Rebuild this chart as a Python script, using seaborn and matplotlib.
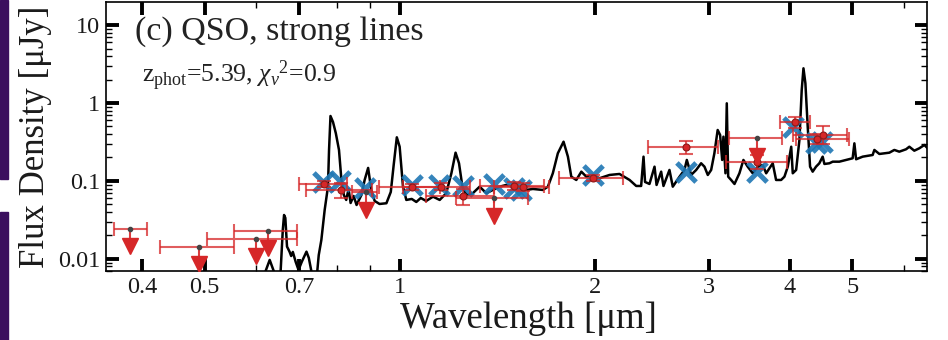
import numpy as np
import pandas as pd
import matplotlib
matplotlib.use("Agg")
import matplotlib.pyplot as plt
import seaborn as sns
from matplotlib.patches import Rectangle
from matplotlib.ticker import FixedLocator, FixedFormatter, LogLocator, NullFormatter

# ---------------- data ----------------
spec_wave = [0.612, 0.621, 0.630, 0.639, 0.648, 0.655, 0.660, 0.663, 0.666, 0.670,
             0.676, 0.680, 0.684, 0.691, 0.698, 0.706, 0.718, 0.724, 0.731, 0.739,
             0.746, 0.750, 0.757, 0.766, 0.775, 0.778, 0.782, 0.789, 0.797, 0.806,
             0.813, 0.820, 0.827, 0.834, 0.840, 0.849, 0.858, 0.873, 0.883, 0.894,
             0.904, 0.915, 0.931, 0.954, 0.969, 0.979, 0.990, 1.000, 1.012, 1.024,
             1.044, 1.061, 1.078, 1.099, 1.126, 1.153, 1.180, 1.202, 1.220, 1.235,
             1.250, 1.268, 1.297, 1.329, 1.361, 1.393, 1.427, 1.461, 1.496, 1.532,
             1.569, 1.606, 1.664, 1.694, 1.724, 1.755, 1.791, 1.819, 1.841, 1.874,
             1.908, 1.942, 1.987, 2.035, 2.109, 2.185, 2.265, 2.319, 2.360, 2.371,
             2.380, 2.393, 2.431, 2.475, 2.493, 2.534, 2.555, 2.610, 2.641, 2.705,
             2.753, 2.776, 2.819, 2.870, 2.921, 2.956, 2.991, 3.027, 3.062, 3.098,
             3.125, 3.148, 3.162, 3.185, 3.200, 3.216, 3.250, 3.289, 3.347, 3.395,
             3.447, 3.509, 3.572, 3.636, 3.681, 3.768, 3.813, 3.882, 3.928, 3.975,
             4.024, 4.046, 4.095, 4.143, 4.177, 4.203, 4.232, 4.267, 4.303, 4.343,
             4.395, 4.447, 4.500, 4.528, 4.609, 4.664, 4.775, 4.891, 5.006, 5.037,
             5.068, 5.188, 5.375, 5.408, 5.505, 5.704, 5.806, 5.909, 6.053, 6.124,
             6.233, 6.346, 6.460, 6.576]
spec_flux = [0.00464, 0.00702, 0.00971, 0.00702, 0.00464, 0.00702, 0.0235, 0.0366, 0.0336, 0.0144,
             0.0124, 0.0109, 0.0123, 0.00916, 0.00723, 0.00916, 0.0124, 0.0103, 0.00681, 0.00538,
             0.00687, 0.0112, 0.0175, 0.0425, 0.0845, 0.250, 0.681, 0.571, 0.409, 0.250,
             0.103, 0.0662, 0.0571, 0.0790, 0.0522, 0.0642, 0.0492, 0.0662, 0.103, 0.147,
             0.0767, 0.0554, 0.0507, 0.0518, 0.0723, 0.160, 0.363, 0.275, 0.0845, 0.0571,
             0.0588, 0.0538, 0.0605, 0.0554, 0.0629, 0.0571, 0.0696, 0.1255, 0.2306, 0.1686,
             0.0845, 0.0662, 0.0696, 0.0845, 0.0696, 0.0767, 0.0845, 0.0889, 0.0845, 0.0813,
             0.0767, 0.0790, 0.0767, 0.0845, 0.1255, 0.2265, 0.319, 0.205, 0.1135, 0.103,
             0.1316, 0.1135, 0.1194, 0.1083, 0.1194, 0.123, 0.103, 0.0863, 0.0863, 0.1384,
             0.205, 0.0971, 0.0915, 0.1525, 0.0889, 0.1316, 0.0863, 0.1384, 0.0845, 0.1135,
             0.1384, 0.186, 0.1194, 0.1384, 0.1686, 0.1525, 0.1194, 0.1384, 0.2265, 0.451,
             0.389, 0.186, 0.370, 0.1255, 0.991, 0.1135, 0.103, 0.0915, 0.1255, 0.186,
             0.1525, 0.1255, 0.1525, 0.160, 0.1255, 0.1686, 0.103, 0.103, 0.1135, 0.1525,
             0.275, 0.1255, 0.1384, 0.3355, 1.468, 2.786, 1.789, 0.497, 0.1525, 0.1316,
             0.1525, 0.1686, 0.205, 0.1652, 0.1686, 0.1768, 0.1768, 0.186, 0.1954, 0.304,
             0.1898, 0.205, 0.2154, 0.250, 0.222, 0.2306, 0.250, 0.2375, 0.255, 0.275,
             0.2445, 0.2626, 0.2894, 0.250]

# detections
det_wave = [0.764, 0.811, 1.046, 1.160, 1.252, 1.504, 1.550, 1.992, 2.765, 3.564, 4.085, 4.408, 4.510]
det_flux = [0.0907, 0.0767, 0.0830, 0.0845, 0.0649, 0.0863, 0.0830, 0.109, 0.270, 0.174, 0.566, 0.342, 0.389]
det_flux_lo = [0.083, 0.060, 0.076, 0.077, 0.0493, 0.077, 0.074, 0.100, 0.220, 0.141, 0.4825, 0.296, 0.296]
det_flux_hi = [0.099, 0.0943, 0.0905, 0.093, 0.0790, 0.096, 0.093, 0.119, 0.326, 0.2135, 0.6675, 0.397, 0.5075]
det_wave_lo = [0.698, 0.716, 0.930, 1.013, 1.100, 1.331, 1.400, 1.762, 2.422, 3.192, 3.872, 4.094, 4.050]
det_wave_hi = [0.829, 0.905, 1.153, 1.282, 1.400, 1.668, 1.700, 2.211, 3.105, 3.966, 4.301, 4.940, 4.900]

# upper limits
ul_wave = [0.384, 0.490, 0.599, 0.626, 0.888, 1.401, 3.564]
ul_flux = [0.0243, 0.0144, 0.0180, 0.0229, 0.0713, 0.0597, 0.352]
ul_wave_lo = [0.362, 0.426, 0.505, 0.555, 0.843, 1.223, 3.222]
ul_wave_hi = [0.407, 0.555, 0.693, 0.693, 0.922, 1.578, 3.895]

# model photometry
model_wave = [0.762, 0.808, 0.883, 1.046, 1.150, 1.252, 1.401, 1.504, 1.541, 1.992, 2.765, 3.564, 4.05, 4.40, 4.49]
model_flux = [0.098, 0.101, 0.082, 0.0889, 0.0889, 0.0871, 0.0902, 0.0806, 0.0767, 0.1194, 0.1316, 0.1316, 0.497, 0.305, 0.313]

x_major = [0.4, 0.5, 0.7, 1, 2, 3, 4, 5]
x_major_labels = ["0.4", "0.5", "0.7", "1", "2", "3", "4", "5"]
x_minor = [0.6, 0.8, 0.9, 6]
y_major = [0.01, 0.1, 1, 10]
y_major_labels = ["0.01", "0.1", "1", "10"]

# ---------------- style ----------------
sns.set_theme(style="ticks")
plt.rcParams["font.family"] = ["Liberation Serif", "DejaVu Serif"]
plt.rcParams["mathtext.fontset"] = "custom"
plt.rcParams["mathtext.rm"] = "Liberation Serif"
plt.rcParams["mathtext.it"] = "Liberation Serif:italic"
plt.rcParams["text.color"] = "#1a1a1a"
plt.rcParams["axes.labelcolor"] = "#1a1a1a"

RED = "#d62728"
BLUE = "#1f77b4"

fig = plt.figure(figsize=(9.48, 3.4), dpi=100)
ax = fig.add_axes([0.1118, 0.2029, 0.866, 0.791])
ax.set_xscale("log")
ax.set_yscale("log")

spec = pd.DataFrame({"wave": spec_wave, "flux": spec_flux})
sns.lineplot(data=spec, x="wave", y="flux", sort=False, estimator=None,
             color="black", lw=1.8, ax=ax, zorder=2)

model = pd.DataFrame({"wave": model_wave, "flux": model_flux})
sns.scatterplot(data=model, x="wave", y="flux", marker="x", s=190, linewidth=3.6,
                color=BLUE, alpha=0.9, ax=ax, zorder=3)

dw = np.array(det_wave); df = np.array(det_flux)
ax.errorbar(dw, df,
            xerr=[dw - np.array(det_wave_lo), np.array(det_wave_hi) - dw],
            yerr=[df - np.array(det_flux_lo), np.array(det_flux_hi) - df],
            fmt="none", ecolor=RED, elinewidth=1.5, capsize=5, capthick=1.5,
            alpha=0.75, zorder=4)
ax.plot(dw, df, "o", ms=5, mfc=RED, mec="#8b1a1a", mew=0.8, zorder=5, ls="none")

uw = np.array(ul_wave); uf = np.array(ul_flux)
ax.errorbar(uw, uf, xerr=[uw - np.array(ul_wave_lo), np.array(ul_wave_hi) - uw],
            fmt="none", ecolor=RED, elinewidth=1.5, capsize=5, capthick=1.5,
            alpha=0.75, zorder=4)
ax.vlines(uw, uf * 0.6, uf, colors=RED, lw=1.5, alpha=0.9, zorder=4)
ax.plot(uw, uf * 0.6, "v", ms=11.5, color=RED, zorder=5, ls="none")
ax.plot(uw, uf, "o", ms=3, color="#444444", zorder=6, ls="none")

ax.set_xlim(0.352, 6.52)
ax.set_ylim(0.0070, 19.7)

ax.xaxis.set_major_locator(FixedLocator(x_major))
ax.xaxis.set_major_formatter(FixedFormatter(x_major_labels))
ax.xaxis.set_minor_locator(FixedLocator(x_minor))
ax.xaxis.set_minor_formatter(NullFormatter())
ax.yaxis.set_major_locator(FixedLocator(y_major))
ax.yaxis.set_major_formatter(FixedFormatter(y_major_labels))
ax.yaxis.set_minor_locator(LogLocator(base=10, subs=np.arange(2, 10)))
ax.yaxis.set_minor_formatter(NullFormatter())

ax.tick_params(which="both", direction="in", top=True, right=True, colors="black",
               labelcolor="#1a1a1a", labelsize=17.5)
ax.tick_params(which="major", length=9, width=2.8, pad=4)
ax.tick_params(which="minor", length=4.5, width=1.0)
for s in ax.spines.values():
    s.set_linewidth(1.2)
    s.set_color("black")

ax.set_xlabel("Wavelength [μm]", fontsize=26.5)
ax.set_ylabel("Flux Density [μJy]", fontsize=25)
ax.xaxis.set_label_coords(0.515, -0.115)
ax.yaxis.set_label_coords(-0.066, 0.5)

ax.text(0.035, 0.86, "(c) QSO, strong lines", transform=ax.transAxes,
        fontsize=24.5, va="baseline", ha="left", color="#222222")
ax.text(0.044, 0.703, r"$\mathrm{z_{phot}}$=5.39, $\chi_\nu{}^2$=0.9", transform=ax.transAxes,
        fontsize=18.5, va="baseline", ha="left", color="#222222")

# edges of neighbouring panels
fig.add_artist(Rectangle((0, 0.4735), 0.0085, 0.5265, transform=fig.transFigure,
                         color="#3b0f5e", zorder=0))
fig.add_artist(Rectangle((0, 0.0), 0.0085, 0.376, transform=fig.transFigure,
                         color="#3b0f5e", zorder=0))

fig.savefig("out.png", dpi=100)
